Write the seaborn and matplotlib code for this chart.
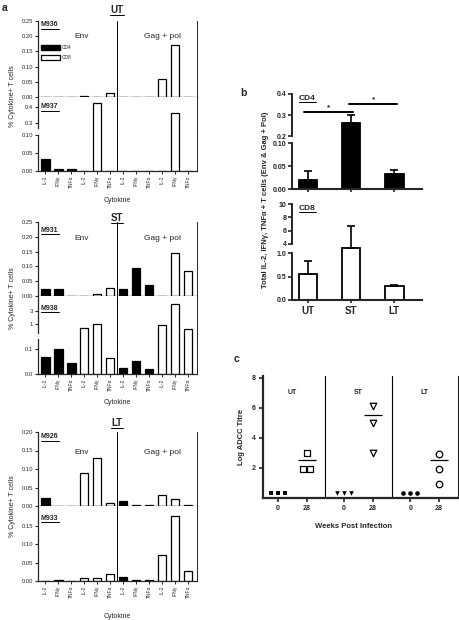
import numpy as np
import pandas as pd
import matplotlib
matplotlib.use("Agg")
import matplotlib.pyplot as plt
import seaborn as sns
from matplotlib.patches import Patch
from matplotlib.lines import Line2D

# --- panel a : % cytokine+ T cells, 12 slots per animal ---
cytokines = ["IL-2", "IFNγ", "TNFα"] * 4
cells = ["CD4"] * 3 + ["CD8"] * 3 + ["CD4"] * 3 + ["CD8"] * 3
antigens = ["Env"] * 6 + ["Gag + pol"] * 6

m936 = [0, 0, 0, 0.003, 0, 0.012, 0, 0, 0, 0.060, 0.170, 0]
m937 = [0.032, 0.006, 0.006, 0, 0.425, 0, 0, 0, 0, 0, 0.362, 0]
m931 = [0.022, 0.022, 0, 0, 0.007, 0.027, 0.024, 0.095, 0.038, 0, 0.146, 0.085]
m938 = [0.068, 0.10, 0.044, 0.70, 1.0, 0.064, 0.024, 0.052, 0.020, 0.95, 5.4, 0.68]
m926 = [0.022, 0, 0, 0.088, 0.130, 0.008, 0.014, 0.004, 0.002, 0.030, 0.020, 0.002]
m933 = [0.001, 0.004, 0, 0.008, 0.008, 0.018, 0.011, 0.004, 0.002, 0.072, 0.178, 0.028]

# --- panel b : totals (mean + sem) ---
groups = ["UT", "ST", "LT"]
cd4_total = [0.020, 0.260, 0.033]
cd4_sem = [0.019, 0.040, 0.008]
cd8_total = [0.55, 1.10, 0.30]
cd8_sem = [0.28, 5.60, 0.02]

# --- panel c : log ADCC titre ---
weeks = ["0", "28"]
ut_wk0 = [0.35, 0.35, 0.35]
ut_wk28 = [3.0, 1.9, 1.9]
st_wk0 = [0.35, 0.35, 0.35]
st_wk28 = [6.1, 5.0, 3.0]
lt_wk0 = [0.35, 0.35, 0.35]
lt_wk28 = [2.9, 1.9, 0.9]
adcc_line = [2.5, 5.5, 2.5]
adcc_markers = ["s", "v", "o"]

W, H = 460, 620
sns.set_style("ticks")
plt.rcParams["font.family"] = ["Liberation Sans", "DejaVu Sans"]

fig = plt.figure(figsize=(W / 100, H / 100), dpi=100)


def px_axes(x0, y0, x1, y1):
    return fig.add_axes([x0 / W, 1 - y1 / H, (x1 - x0) / W, (y1 - y0) / H])


def ftext(x, y, s, **kw):
    kw.setdefault("ha", "center")
    kw.setdefault("va", "center")
    return fig.text(x / W, 1 - y / H, s, **kw)


underlined = []
slots = [f"{a} {c} {k}" for a, c, k in zip(antigens, cells, cytokines)]


def cyto_axis(y0, y1, vals, ylim, ticks, fmt, role, log=False, bounds=None):
    ax = px_axes(38, y0, 197, y1)
    df = pd.DataFrame({"slot": slots, "pct": vals, "cell": cells})
    sns.barplot(data=df, x="slot", y="pct", hue="cell", order=slots,
                hue_order=["CD4", "CD8"], palette={"CD4": "black", "CD8": "white"},
                edgecolor="black", linewidth=0.9, width=0.68, dodge=False,
                errorbar=None, legend=False, saturation=1, ax=ax)
    ax.set_xlim(-0.55, 11.7)
    ax.axvline(5.5, color="black", lw=0.7)
    ax.set_xlabel("")
    ax.set_ylabel("")
    if log:
        ax.set_yscale("log")
    ax.set_ylim(*ylim)
    ax.set_yticks(ticks, labels=[fmt.format(t) for t in ticks])
    ax.minorticks_off()
    ax.spines["top"].set_visible(False)
    ax.spines["right"].set_linewidth(0.7)
    ax.spines["left"].set_linewidth(0.9)
    ax.spines["bottom"].set_linewidth(0.9)
    if bounds:
        ax.spines["left"].set_bounds(*bounds)
    ax.tick_params(axis="y", labelsize=4.2, length=2.5, width=0.8, pad=1)
    ax.tick_params(axis="x", length=2, width=0.7, pad=1)
    if role == "top":
        ax.tick_params(axis="x", labelbottom=False)
    elif role == "mid":
        ax.spines["bottom"].set_visible(False)
        ax.tick_params(axis="x", bottom=False, labelbottom=False)
    else:
        ax.set_xticks(range(12), labels=cytokines, rotation=90, fontsize=3.5)
    return ax


# UT
ax = cyto_axis(21, 97, m936, (0, 0.25), [0, 0.05, 0.10, 0.15, 0.20, 0.25], "{:.2f}", "top")
ax.legend(handles=[Patch(facecolor="black", edgecolor="black"),
                   Patch(facecolor="white", edgecolor="black", linewidth=0.9)],
          labels=["CD4", "CD8"], loc="upper left", bbox_to_anchor=(0.02, 0.68),
          frameon=False, fontsize=3.5, handlelength=3.9, handleheight=1.0,
          borderpad=0, borderaxespad=0, labelspacing=1.0, handletextpad=0.4)
cyto_axis(97, 131, m937, (0.25, 0.4625), [0.3, 0.4], "{:.1f}", "mid", bounds=(0.27, 0.4625))
cyto_axis(131, 171, m937, (0, 0.111), [0, 0.05, 0.10], "{:.2f}", "bottom", bounds=(0, 0.10))
# ST
cyto_axis(222, 296, m931, (0, 0.25), [0, 0.05, 0.10, 0.15, 0.20, 0.25], "{:.2f}", "top")
cyto_axis(296, 336, m938, (0.36, 10.9), [1, 3], "{:g}", "mid", log=True, bounds=(0.45, 10.9))
cyto_axis(336, 374, m938, (0, 0.152), [0, 0.1], "{:.1f}", "bottom", bounds=(0, 0.14))
# LT
cyto_axis(432, 506, m926, (0, 0.20), [0, 0.05, 0.10, 0.15, 0.20], "{:.2f}", "top")
cyto_axis(506, 581, m933, (0, 0.205), [0, 0.05, 0.10, 0.15], "{:.2f}", "bottom")

for title, ty, labs, env_y, cyto_y, mid in [
        ("UT", 10, [("M936", 25), ("M937", 107)], 37, 201, 96),
        ("ST", 218, [("M931", 230), ("M938", 308)], 239, 403, 298),
        ("LT", 423, [("M926", 437), ("M933", 518)], 452, 616, 506)]:
    underlined.append(ftext(117, ty, title, fontsize=7, fontweight="bold"))
    for name, ly in labs:
        underlined.append(ftext(41, ly, name, fontsize=5, fontweight="bold", ha="left"))
    ftext(82, env_y, "Env", fontsize=6)
    ftext(163, env_y, "Gag + pol", fontsize=6)
    ftext(117, cyto_y, "Cytokine", fontsize=5)
    ftext(13, mid, "% Cytokine+ T cells", fontsize=5, rotation=90)

ftext(5, 8, "a", fontsize=7.5, fontweight="bold")


# --- panel b ---
def total_axis(y0, y1, means, sems, fill, ylim, ticks, fmt, bounds, bottom, labels=False):
    ax = px_axes(292, y0, 422, y1)
    sns.barplot(x=groups, y=means, color=fill, edgecolor="black", linewidth=1.3,
                width=0.44, saturation=1, errorbar=None, ax=ax)
    ax.errorbar(range(len(groups)), means, yerr=[np.zeros(len(means)), sems],
                fmt="none", ecolor="black", elinewidth=1.2, capsize=3, capthick=1.2)
    ax.set_xlim(-0.372, 2.65)
    ax.set_ylim(*ylim)
    ax.set_yticks(ticks, labels=[fmt.format(t) for t in ticks], fontsize=5, fontweight="bold")
    ax.spines["top"].set_visible(False)
    ax.spines["right"].set_visible(False)
    ax.spines["left"].set_linewidth(1.4)
    ax.spines["left"].set_bounds(*bounds)
    ax.spines["bottom"].set_linewidth(1.5)
    ax.tick_params(axis="y", length=3, width=1.2, pad=1)
    if not bottom:
        ax.spines["bottom"].set_visible(False)
        ax.tick_params(axis="x", bottom=False, labelbottom=False)
    else:
        ax.tick_params(axis="x", length=2.5, width=1.2, pad=2)
        if labels:
            ax.set_xticks(range(len(groups)), labels=groups, fontsize=7, fontweight="bold")
        else:
            ax.tick_params(axis="x", labelbottom=False)
    return ax


bu = total_axis(90, 139, cd4_total, cd4_sem, "black", (0.186, 0.419), [0.2, 0.3, 0.4],
                "{:.1f}", (0.2, 0.4), False)
total_axis(139, 189, cd4_total, cd4_sem, "black", (0, 0.1087), [0, 0.05, 0.10],
           "{:.2f}", (0, 0.10), True)
total_axis(200, 247, cd8_total, cd8_sem, "white", (3.55, 10.6), [4, 6, 8, 10],
           "{:g}", (4, 10), False)
total_axis(247, 300, cd8_total, cd8_sem, "white", (0, 1.128), [0, 0.5, 1.0],
           "{:.1f}", (0, 1.0), True, labels=True)

# significance bars
bu.plot([-0.09, 1.05], [0.314, 0.314], color="black", lw=1.4, clip_on=False)
bu.plot([0.95, 2.07], [0.352, 0.352], color="black", lw=1.4, clip_on=False)
bu.text(0.49, 0.335, "*", ha="center", va="center", fontsize=6, fontweight="bold")
bu.text(1.53, 0.373, "*", ha="center", va="center", fontsize=6, fontweight="bold")

underlined.append(ftext(299, 98, "CD4", fontsize=6, fontweight="bold", ha="left"))
underlined.append(ftext(299, 208, "CD8", fontsize=6, fontweight="bold", ha="left"))
ftext(266, 200, "Total IL-2, IFNγ, TNFα + T cells (Env & Gag + Pol)",
      fontsize=5.5, fontweight="bold", rotation=90)
ftext(243, 93, "b", fontsize=7.5, fontweight="bold")

# --- panel c ---
axc = px_axes(263, 376, 458, 498)


def spread(vals, step=0.24):
    vals = np.asarray(vals)
    off = np.zeros(len(vals))
    for v in np.unique(vals):
        idx = np.where(vals == v)[0]
        off[idx] = (np.arange(len(idx)) - (len(idx) - 1) / 2) * step
    return off


adcc = [(ut_wk0, ut_wk28), (st_wk0, st_wk28), (lt_wk0, lt_wk28)]
gap = 2.3
tick_pos, tick_lab = [], []
for g, (w0, w28) in enumerate(adcc):
    p0, p28 = g * gap, g * gap + 1
    sns.scatterplot(x=p0 + spread(w0), y=w0, marker=adcc_markers[g], color="black",
                    s=11, linewidth=0, ax=axc)
    sns.scatterplot(x=p28 + spread(w28), y=w28, marker=adcc_markers[g], color="white",
                    edgecolor="black", s=22, linewidth=0.9, ax=axc)
    axc.hlines(adcc_line[g], p28 - 0.32, p28 + 0.32, color="black", lw=0.9)
    axc.text(p0 + 0.5, 7.0, groups[g], ha="center", va="center", fontsize=5, fontweight="bold")
    if g < len(adcc) - 1:
        axc.axvline(p28 + (gap - 1) / 2, color="black", lw=0.8)
    tick_pos += [p0, p28]
    tick_lab += weeks

axc.set_xlim(-0.52, 6.26)
axc.set_ylim(0, 8.13)
axc.set_xticks(tick_pos, labels=tick_lab, fontsize=5, fontweight="bold")
axc.set_yticks([2, 4, 6, 8], labels=["2", "4", "6", "8"], fontsize=5, fontweight="bold")
axc.spines["top"].set_visible(False)
axc.spines["right"].set_linewidth(0.8)
axc.spines["left"].set_linewidth(1.6)
axc.spines["bottom"].set_linewidth(1.6)
axc.tick_params(length=3, width=1.2, pad=2)
ftext(354, 526, "Weeks Post Infection", fontsize=5.5, fontweight="bold")
ftext(242, 437, "Log ADCC Titre", fontsize=5.5, fontweight="bold", rotation=90)
ftext(237, 359, "c", fontsize=7.5, fontweight="bold")

# underline the labels
fig.canvas.draw()
inv = fig.transFigure.inverted()
for t in underlined:
    bb = t.get_window_extent()
    (x0, y0), (x1, _) = inv.transform([(bb.x0, bb.y0), (bb.x1, bb.y0)])
    fig.add_artist(Line2D([x0, x1], [y0, y0], transform=fig.transFigure,
                          color="black", lw=0.7))

fig.savefig("out.png", dpi=100)
